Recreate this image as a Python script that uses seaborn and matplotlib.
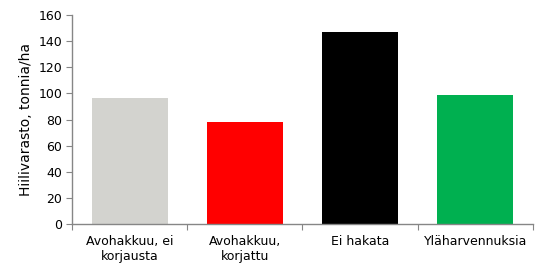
import matplotlib
matplotlib.use("Agg")
import matplotlib.pyplot as plt
import seaborn as sns
import pandas as pd

categories = ["Avohakkuu, ei\nkorjausta", "Avohakkuu,\nkorjattu", "Ei hakata", "Yläharvennuksia"]
values = [96.5, 78, 147, 99]
colors = ["#d3d3cf", "#ff0000", "#000000", "#00b050"]

df = pd.DataFrame({"cat": categories, "val": values})

sns.set_style("white")
plt.rcParams['font.family'] = ['DejaVu Sans']
plt.rcParams['text.color'] = 'black'
plt.rcParams['axes.labelcolor'] = 'black'
plt.rcParams['xtick.color'] = 'black'
plt.rcParams['ytick.color'] = 'black'

fig = plt.figure(figsize=(5.42, 2.79), dpi=100)
ax = fig.add_axes([0.133, 0.197, 0.850, 0.749])
sns.barplot(data=df, x="cat", y="val", hue="cat", palette=colors, width=0.66,
            legend=False, ax=ax, saturation=1, linewidth=0, edgecolor="none")

ax.set_ylim(0, 160)
ax.set_xlim(-0.5, 3.5)
ax.set_yticks(range(0, 161, 20))
ax.set_xlabel("")
ax.set_ylabel("Hiilivarasto, tonnia/ha", fontsize=10, color="black")

ax.set_xticks([-0.5, 0.5, 1.5, 2.5, 3.5], minor=False)
ax.set_xticklabels([])
ax.set_xticks(range(4), minor=True)
ax.set_xticklabels(categories, minor=True, fontsize=9, color="black")
ax.tick_params(axis="x", which="minor", length=0, pad=8)
ax.tick_params(axis="x", which="major", length=4, direction="out", color="#868686", bottom=True)
ax.tick_params(axis="y", length=4, direction="out", color="#868686", labelsize=9,
               labelcolor="black", left=True, pad=3)

for s in ["top", "right"]:
    ax.spines[s].set_visible(False)
for s in ["left", "bottom"]:
    ax.spines[s].set_color("#868686")
    ax.spines[s].set_linewidth(1)

fig.savefig("out.png", dpi=100)
